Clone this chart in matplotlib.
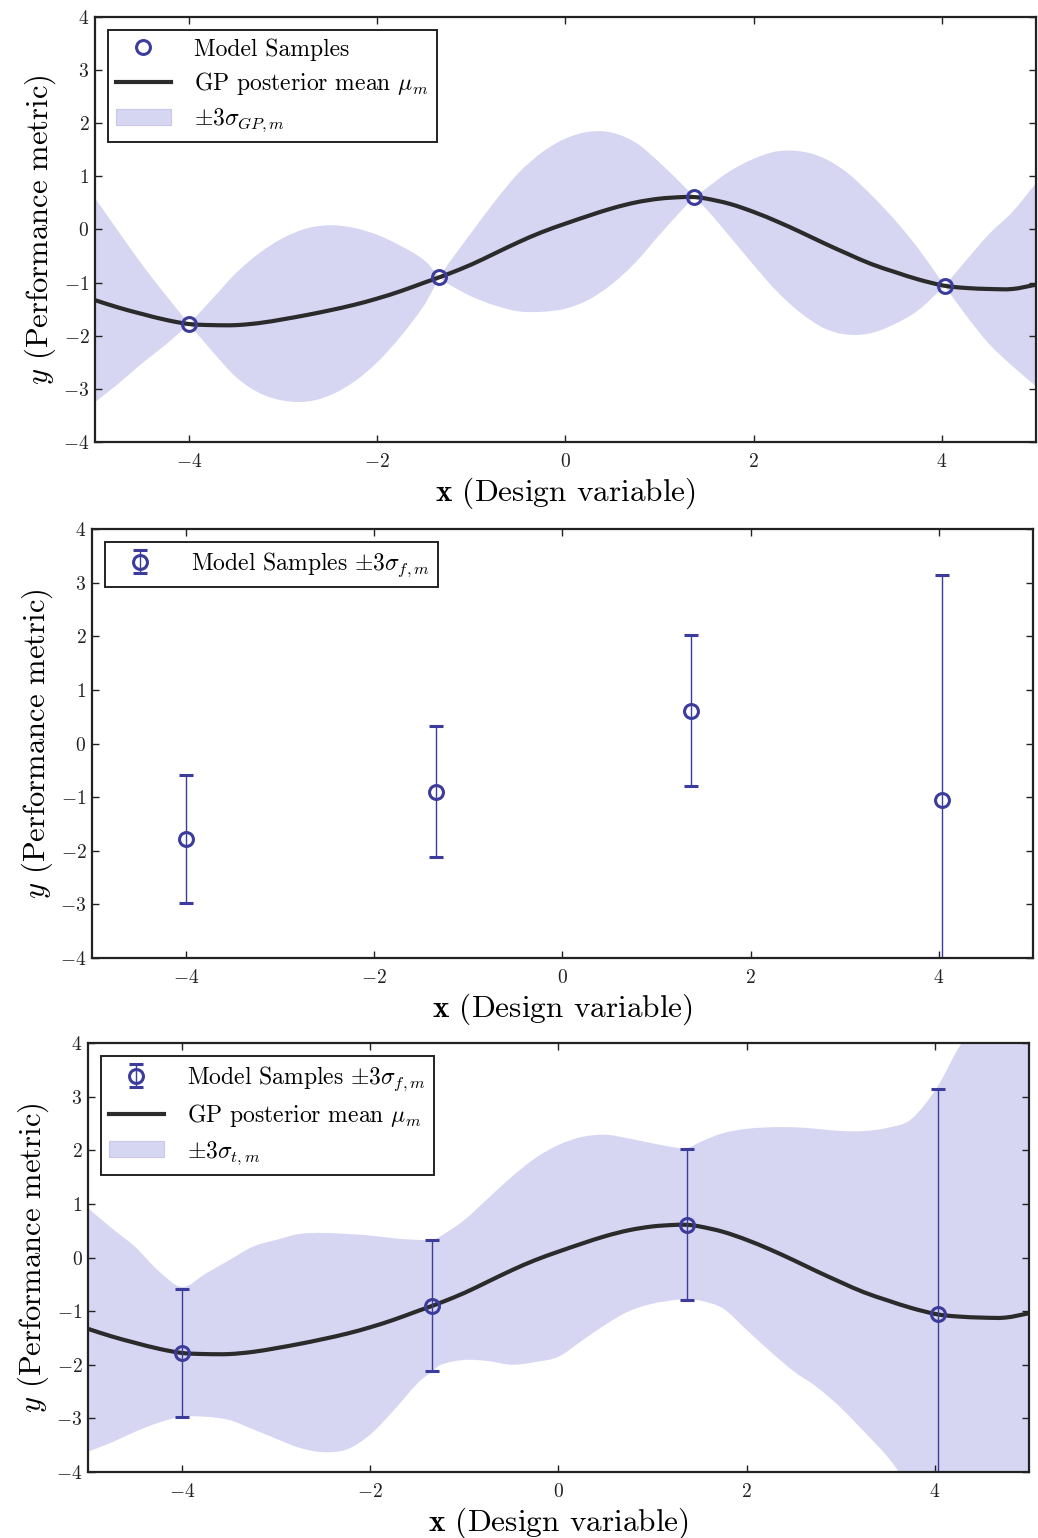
import numpy as np
import matplotlib
matplotlib.use("Agg")
from matplotlib import pyplot as plt
from matplotlib.path import Path
from matplotlib.patches import PathPatch
from matplotlib.lines import Line2D
from matplotlib.patches import Patch
from matplotlib.ticker import FuncFormatter, MultipleLocator

# 読み取ったデータ
# サンプル点
x_samp = [-4.0, -1.34, 1.37, 4.03]
y_samp = [-1.78, -0.90, 0.61, -1.06]
err_samp = [1.20, 1.22, 1.41, 4.20]

# 平均曲線のグリッド
x_grid = [-5.0, -4.75, -4.5, -4.25, -4.0, -3.75, -3.5, -3.25, -3.0, -2.75,
          -2.5, -2.25, -2.0, -1.75, -1.5, -1.34, -1.25, -1.0, -0.75, -0.5,
          -0.25, 0.0, 0.25, 0.5, 0.75, 1.0, 1.25, 1.37, 1.5, 1.75,
          2.0, 2.25, 2.5, 2.75, 3.0, 3.25, 3.5, 3.75, 4.03, 4.25,
          4.5, 4.75, 5.0]
mu = [-1.33, -1.47, -1.59, -1.70, -1.78, -1.80, -1.80, -1.76, -1.69, -1.61,
      -1.52, -1.42, -1.30, -1.16, -1.00, -0.90, -0.84, -0.66, -0.45, -0.24,
      -0.05, 0.11, 0.26, 0.40, 0.51, 0.58, 0.61, 0.61, 0.58, 0.48,
      0.33, 0.15, -0.05, -0.26, -0.46, -0.65, -0.80, -0.94, -1.06, -1.10,
      -1.12, -1.12, -1.04]

# パネル1: ±3σ_GP の幅
sig3_gp = [1.92, 1.43, 0.93, 0.47, 0.0, 0.50, 0.98, 1.32, 1.53, 1.63,
           1.60, 1.45, 1.20, 0.85, 0.42, 0.0, 0.18, 0.60, 0.98, 1.30,
           1.50, 1.60, 1.58, 1.42, 1.12, 0.68, 0.22, 0.0, 0.20, 0.62,
           1.00, 1.32, 1.52, 1.60, 1.52, 1.30, 0.98, 0.58, 0.0, 0.50,
           1.03, 1.45, 1.91]

# パネル3: ±3σ_t の上下端
upper_t = [0.92, 0.55, 0.20, -0.25, -0.55, -0.30, -0.05, 0.20, 0.33, 0.44,
           0.46, 0.44, 0.41, 0.36, 0.33, 0.33, 0.40, 0.70, 1.10, 1.50,
           1.85, 2.10, 2.25, 2.29, 2.22, 2.13, 2.05, 2.04, 2.15, 2.32,
           2.40, 2.43, 2.43, 2.40, 2.36, 2.36, 2.42, 2.58, 3.19, 3.90,
           4.50, 4.90, 5.20]
lower_t = [-3.62, -3.45, -3.25, -3.08, -2.97, -2.97, -3.03, -3.20, -3.38, -3.55,
           -3.63, -3.58, -3.30, -2.85, -2.35, -2.12, -2.00, -1.91, -1.93, -2.00,
           -1.95, -1.85, -1.55, -1.25, -1.00, -0.86, -0.79, -0.78, -0.80, -0.95,
           -1.35, -1.75, -2.12, -2.42, -2.80, -3.25, -3.72, -4.30, -4.80, -5.00,
           -5.00, -5.00, -5.00]

xg = np.array(x_grid)
mu = np.array(mu)
sig3_gp = np.array(sig3_gp)

plt.rcParams["font.family"] = "serif"
plt.rcParams["font.serif"] = ["cmr10", "DejaVu Serif"]
plt.rcParams["mathtext.fontset"] = "cm"
plt.rcParams["axes.unicode_minus"] = False

C_PT = "#3c3c9c"
C_FILL = "#d6d6f3"
C_LINE = "#2b2b2b"

# サンプル点の位置でグリッドを区切る(帯がくびれる所)
breaks = [x_grid.index(v) for v in x_samp]


def bezier_segs(xs, ys, cuts=()):
    """点列を通る滑らかな 3 次ベジェ曲線 (Hermite) の頂点を返す。"""
    xs = np.asarray(xs, float)
    ys = np.asarray(ys, float)
    n = len(xs)
    # 各点での傾き
    m = np.zeros(n)
    for i in range(n):
        if i == 0:
            m[i] = (ys[1] - ys[0]) / (xs[1] - xs[0])
        elif i == n - 1:
            m[i] = (ys[-1] - ys[-2]) / (xs[-1] - xs[-2])
        else:
            m[i] = (ys[i + 1] - ys[i - 1]) / (xs[i + 1] - xs[i - 1])
    verts = [(xs[0], ys[0])]
    for i in range(n - 1):
        h = xs[i + 1] - xs[i]
        sec = (ys[i + 1] - ys[i]) / h
        m0 = sec if i in cuts else m[i]
        m1 = sec if (i + 1) in cuts else m[i + 1]
        verts += [(xs[i] + h / 3, ys[i] + m0 * h / 3),
                  (xs[i + 1] - h / 3, ys[i + 1] - m1 * h / 3),
                  (xs[i + 1], ys[i + 1])]
    return verts


def smooth_line(ax, xs, ys, **kw):
    v = bezier_segs(xs, ys)
    codes = [Path.MOVETO] + [Path.CURVE4] * (len(v) - 1)
    ax.add_patch(PathPatch(Path(v, codes), fill=False, capstyle="round", **kw))


def smooth_band(ax, xs, lo, hi, cuts=(), **kw):
    top = bezier_segs(xs, hi, cuts)
    bot = bezier_segs(xs, lo, cuts)[::-1]
    v = top + bot + [top[0]]
    codes = ([Path.MOVETO] + [Path.CURVE4] * (len(top) - 1) + [Path.LINETO]
             + [Path.CURVE4] * (len(bot) - 1) + [Path.CLOSEPOLY])
    ax.add_patch(PathPatch(Path(v, codes), lw=0, **kw))


def bold_tick(v, pos):
    return r"$\mathbf{%d}$" % int(round(v))


def style_ax(ax):
    ax.set_xlim(-5, 5)
    ax.set_ylim(-4, 4)
    ax.xaxis.set_major_locator(MultipleLocator(2))
    ax.yaxis.set_major_locator(MultipleLocator(1))
    ax.xaxis.set_major_formatter(FuncFormatter(bold_tick))
    ax.yaxis.set_major_formatter(FuncFormatter(bold_tick))
    ax.tick_params(direction="in", top=True, right=True, length=5,
                   width=1, labelsize=14, colors="#222222")
    ax.tick_params(axis="x", pad=8)
    ax.tick_params(axis="y", pad=4)
    for s in ax.spines.values():
        s.set_linewidth(1.6)
        s.set_color("#222222")
    ax.set_xlabel(r"$\mathbf{x}$ (Design variable)", fontsize=22.5, labelpad=3)
    ax.set_ylabel(r"$y$ (Performance metric)", fontsize=22, labelpad=4)


def add_legend(ax, handles, labels):
    leg = ax.legend(handles, labels, loc="upper left", fontsize=17,
                    fancybox=False, framealpha=1, edgecolor="#222222",
                    borderaxespad=0.55, handlelength=2.3, labelspacing=0.4,
                    borderpad=0.35, handletextpad=1.0)
    leg.get_frame().set_linewidth(1.4)


# 凡例用のハンドル
h_pt = Line2D([], [], ls="none", marker="o", ms=10, mfc="none", mec=C_PT,
              mew=2.2)
h_mu = Line2D([], [], color=C_LINE, lw=3)
h_fill = Patch(facecolor=C_FILL, edgecolor="#c8c8e8", lw=0.8)

fig = plt.figure(figsize=(10.38, 15.38), dpi=100)

# パネル1
ax1 = fig.add_axes([0.0915, 0.7126, 0.9065, 0.2764])
smooth_band(ax1, xg, mu - sig3_gp, mu + sig3_gp, cuts=breaks, color=C_FILL)
smooth_line(ax1, xg, mu, color=C_LINE, lw=3)
ax1.plot(x_samp, y_samp, "o", ms=10, mfc="none", mec=C_PT, mew=2.2)
style_ax(ax1)
add_legend(ax1, [h_pt, h_mu, h_fill],
           ["Model Samples", r"GP posterior mean $\mu_m$",
            r"$\pm3\sigma_{GP,m}$"])

# パネル2
ax2 = fig.add_axes([0.0886, 0.3771, 0.9064, 0.2789])
eb2 = ax2.errorbar(x_samp, y_samp, yerr=err_samp, fmt="o", ms=10, mfc="none",
                   mec=C_PT, mew=2.2, ecolor=C_PT, elinewidth=1, capsize=5,
                   capthick=3)
style_ax(ax2)
add_legend(ax2, [eb2], [r"Model Samples $\pm3\sigma_{f,m}$"])

# パネル3
ax3 = fig.add_axes([0.0848, 0.0429, 0.9064, 0.2789])
smooth_band(ax3, xg, np.array(lower_t), np.array(upper_t), color=C_FILL)
smooth_line(ax3, xg, mu, color=C_LINE, lw=3)
eb3 = ax3.errorbar(x_samp, y_samp, yerr=err_samp, fmt="o", ms=10, mfc="none",
                   mec=C_PT, mew=2.2, ecolor=C_PT, elinewidth=1, capsize=5,
                   capthick=3)
style_ax(ax3)
add_legend(ax3, [eb3, h_mu, h_fill],
           [r"Model Samples $\pm3\sigma_{f,m}$", r"GP posterior mean $\mu_m$",
            r"$\pm3\sigma_{t,m}$"])

fig.savefig("out.png", dpi=100)
